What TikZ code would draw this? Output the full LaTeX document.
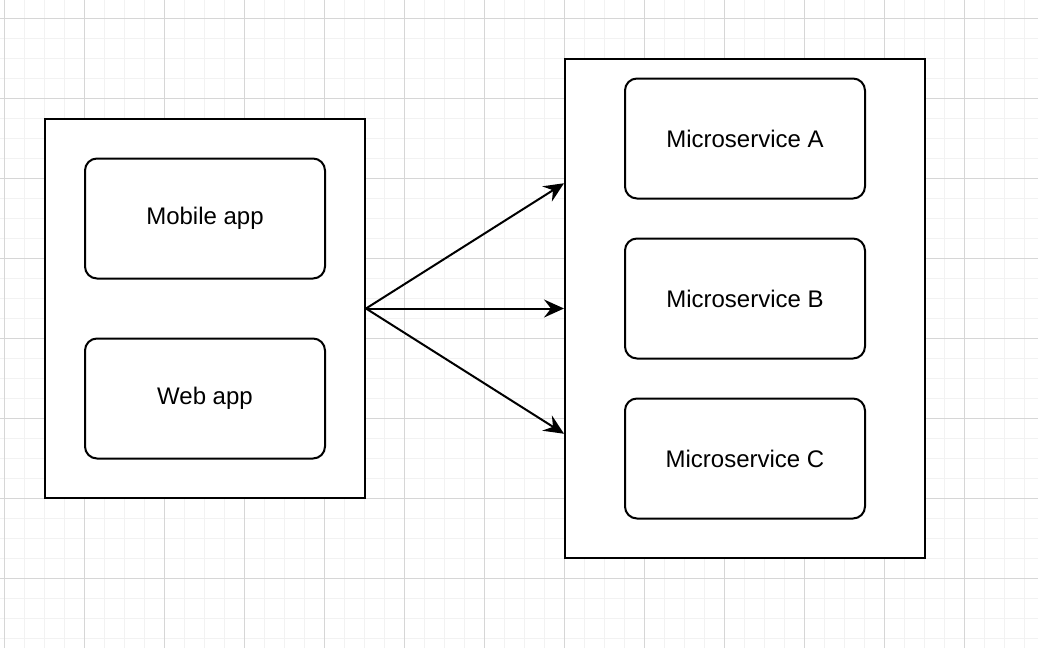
\documentclass[tikz,border=0pt]{standalone}
\usepackage{fontspec}
\setmainfont{Liberation Sans}
\usetikzlibrary{calc}
\usetikzlibrary{arrows.meta}
\usetikzlibrary{positioning}

\definecolor{gridminor}{HTML}{F2F2F2}
\definecolor{gridmajor}{HTML}{D6D6D6}

\tikzset{
  container/.style={rectangle, draw=black, line width=1pt, fill=white},
  service/.style={rectangle, draw=black, line width=1pt, fill=white, rounded corners=6pt,
    minimum width=120pt, minimum height=60pt, font=\fontsize{12}{14}\selectfont},
  link/.style={-{Stealth[length=10pt, width=9pt, inset=3.5pt]}, draw=black, line width=1pt}
}

\begin{document}
\begin{tikzpicture}[x=0.5pt, y=-0.5pt]
\useasboundingbox [fill=white] (0, 0) rectangle (1038, 648);
% grid
\foreach \gx in {4, 24, ..., 1038} {\draw [gridminor, line width=0.5pt] (\gx, 0) -- (\gx, 648);}
\foreach \gy in {18, 38, ..., 648} {\draw [gridminor, line width=0.5pt] (0, \gy) -- (1038, \gy);}
\foreach \gx in {4, 84, ..., 1038} {\draw [gridmajor, line width=0.5pt] (\gx, 0) -- (\gx, 648);}
\foreach \gy in {18, 98, ..., 648} {\draw [gridmajor, line width=0.5pt] (0, \gy) -- (1038, \gy);}
% clients
\node [container, minimum width=160pt, minimum height=189.5pt] (clients) at (205, 308.5) {};
\node [service] (mobile) at (205, 218.5) {Mobile app};
\node [service] (web) at (205, 398.5) {Web app};
% services
\node [container, minimum width=180pt, minimum height=249.5pt] (services) at (745, 308.5) {};
\node [service] (msA) at (745, 138.5) {Microservice A};
\node [service] (msB) at (745, 298.5) {Microservice B};
\node [service] (msC) at (745, 458.5) {Microservice C};
% calls
\coordinate (inA) at ($(services.north west)!0.25!(services.south west)$);
\coordinate (inB) at (services.west);
\coordinate (inC) at ($(services.north west)!0.75!(services.south west)$);
\draw [link] (clients.east) to (inA);
\draw [link] (clients.east) to (inB);
\draw [link] (clients.east) to (inC);
\end{tikzpicture}
\end{document}
